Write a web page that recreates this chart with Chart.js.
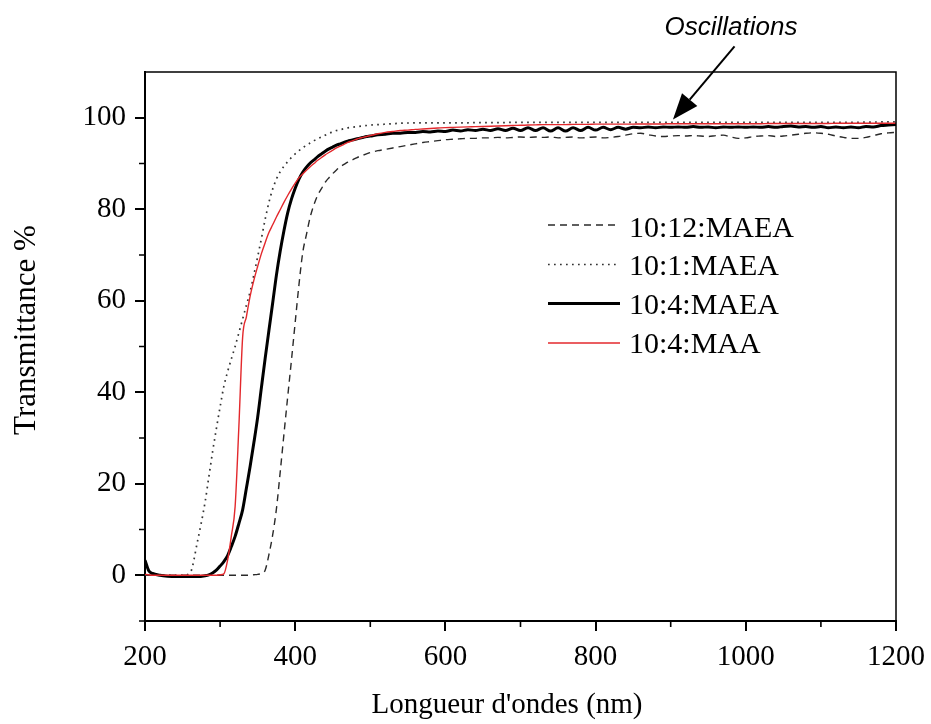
<!DOCTYPE html>
<html><head><meta charset="utf-8">
<script src="https://cdn.jsdelivr.net/npm/chart.js@4"></script>
<style>html,body{margin:0;padding:0;background:#fff}#wrap{width:931px;height:724px;position:relative}</style>
</head><body><div id="wrap"><canvas id="c"></canvas></div>
<script>
const wavelengths = [200,205,210,220,230,240,250,260,270,280,
 285,290,295,300,305,310,315,320,325,330,335,340,345,350,355,360,365,370,375,380,385,390,395,400,405,410,415,420,425,430,435,440,445,450,455,460,465,470,475,480,485,490,495,500,
 510,520,530,540,550,560,570,580,590,600,610,620,630,640,650,660,670,680,690,700,710,720,730,740,750,760,770,780,790,800,
 810,820,830,840,850,860,870,880,890,900,910,920,930,940,950,960,970,980,990,1000,1010,1020,1030,1040,1050,1060,1070,1080,1090,1100,
 1110,1120,1130,1140,1150,1160,1170,1180,1190,1200];

const t12MAEA = [0,0,0,0,0,0,0,0,0,0,
 0,0,0,0,0,0,0,0,0,0,0,0,0.1,0.2,0.4,1.1,4.5,8.8,14.5,22.5,30.8,39,47,55.3,63.5,70.5,74.5,78.3,81,83.1,84.5,85.9,86.9,87.8,88.6,89.3,89.8,90.3,90.7,91.1,91.5,91.8,92.1,92.4,
 92.8,93.1,93.4,93.7,94.0,94.3,94.6,94.8,95.0,95.2,
 95.3,95.4,95.5,95.5,95.6,95.6,95.7,95.6,95.7,95.8,
 95.7,95.8,95.7,95.8,95.6,95.7,95.8,95.6,95.7,95.8,
 95.6,95.7,95.9,96.2,96.5,96.6,96.3,96.0,95.9,96.0,
 96.1,96.0,96.1,96.0,95.9,96.1,96.2,95.8,95.5,95.6,
 95.9,96.0,96.1,95.9,96.0,96.2,96.4,96.6,96.7,96.6,
 96.4,96.0,95.7,95.5,95.5,95.7,96.1,96.5,96.7,96.8];

const t1MAEA = [0,0,0,0,0,0,0,0.5,7.5,16,
 21.5,27,32,36.8,41.3,44.5,47.3,50,53,56,59,62,65.7,69.6,73.6,77.8,81.5,84.4,86.6,88.2,89.4,90.4,91.3,92.1,92.8,93.4,94.0,94.5,95.0,95.4,95.8,96.2,96.6,96.9,97.2,97.4,97.6,97.8,97.9,98.0,98.1,98.2,98.3,98.4,
 98.5,98.6,98.7,98.8,98.85,98.9,98.9,98.9,98.9,98.9,
 98.9,98.9,98.9,98.95,98.95,98.95,98.95,98.95,99,99,
 99,99,99,99,99,99,99,99,99,99,
 99,99,99,99,99,99,99,99,99,99,
 99,99,99,99,99,99,99,99,99,99,
 99,99,99,99,99,99,99,99,99,99,
 99,99,99,99,99,99.05,99.05,99.1,99.1,99.1];

const t4MAEA = [3.3,1.0,0.4,0,-0.2,-0.3,-0.3,-0.3,-0.3,-0.1,
 0.1,0.5,1.1,2.0,3.0,4.3,6.3,8.5,11.3,14.3,19,23.8,29,34.5,41,47.4,53.5,59.5,65.6,70.8,75.3,79.2,82.2,84.6,86.6,88.1,89.2,90.1,90.8,91.5,92.1,92.7,93.2,93.6,94.0,94.3,94.6,94.9,95.1,95.3,95.5,95.7,95.9,96.0,
 96.3,96.4,96.6,96.6,96.8,96.8,97.0,96.9,97.1,97.0,
 97.3,97.1,97.4,97.2,97.5,97.2,97.6,97.2,97.7,97.2,
 97.8,97.2,97.8,97.1,97.8,97.1,97.8,97.2,97.9,97.3,
 97.9,97.4,97.9,97.5,97.9,97.8,98.0,97.8,98.0,97.9,
 98.0,97.9,98.1,97.9,98.0,97.8,98.0,97.9,98.0,97.9,
 98.0,97.9,98.1,97.9,98.1,98.2,98.0,98.1,97.9,98.1,
 97.8,98.0,97.8,98.0,97.8,98.1,98.0,98.3,98.4,98.5];

const t4MAA = [0.2,0.1,0,0,0,0,0,0,0,0,
 0,0,0,0.1,0.3,3.3,8.6,15,32.5,52,56.5,61,64.5,67.5,70.3,72.7,74.9,76.6,78.3,79.9,81.5,83,84.4,85.7,86.9,87.7,88.5,89.3,90.0,90.7,91.3,91.9,92.4,92.9,93.4,93.8,94.2,94.6,94.9,95.2,95.5,95.7,95.9,96.1,
 96.5,96.8,97.0,97.2,97.3,97.45,97.55,97.65,97.75,97.85,
 97.9,97.95,98.0,98.05,98.1,98.15,98.2,98.25,98.3,98.35,
 98.4,98.45,98.5,98.5,98.5,98.5,98.55,98.55,98.55,98.6,
 98.6,98.6,98.6,98.6,98.6,98.65,98.65,98.65,98.65,98.7,
 98.7,98.7,98.7,98.7,98.7,98.7,98.7,98.7,98.7,98.7,
 98.7,98.7,98.75,98.75,98.75,98.75,98.75,98.75,98.75,98.75,
 98.75,98.8,98.8,98.8,98.8,98.8,98.8,98.8,98.8,98.8];

const seriesLabels = ['10:12:MAEA','10:1:MAEA','10:4:MAEA','10:4:MAA'];
const xTicks = [200,400,600,800,1000,1200];
const yTicks = [0,20,40,60,80,100];
const xMinorTicks = [300,500,700,900,1100];
const yMinorTicks = [-10,10,30,50,70,90];
const xTitle = "Longueur d'ondes (nm)";
const yTitle = 'Transmittance %';
const noteText = 'Oscillations';
const noteTip = {x: 903, y: 99.6};
const noteTail = {x: 985, y: 115.6};

const toPoints = arr => wavelengths.map((x, i) => ({x: x, y: arr[i]}));
const serif = 'Liberation Serif, Times New Roman, serif';

const datasets = [
  {label: seriesLabels[0], data: toPoints(t12MAEA), borderColor: '#2a2a2a', borderWidth: 1.4, borderDash: [7, 5], order: 3},
  {label: seriesLabels[1], data: toPoints(t1MAEA), borderColor: '#333333', borderWidth: 1.7, borderDash: [1.7, 4.3], order: 2},
  {label: seriesLabels[2], data: toPoints(t4MAEA), borderColor: '#000000', borderWidth: 3, order: 1},
  {label: seriesLabels[3], data: toPoints(t4MAA), borderColor: '#e3282c', borderWidth: 1.4, order: 0}
];

const deco = {
  id: 'deco',
  afterDraw(chart) {
    const ctx = chart.ctx, a = chart.chartArea, xs = chart.scales.x, ys = chart.scales.y;
    ctx.save();
    ctx.strokeStyle = '#000'; ctx.lineWidth = 1.5; ctx.setLineDash([]);
    ctx.beginPath(); ctx.moveTo(a.left, a.top); ctx.lineTo(a.right, a.top); ctx.lineTo(a.right, a.bottom); ctx.stroke();
    ctx.lineWidth = 1.6; ctx.beginPath();
    xMinorTicks.forEach(v => { const p = xs.getPixelForValue(v); ctx.moveTo(p, a.bottom); ctx.lineTo(p, a.bottom + 6); });
    yMinorTicks.forEach(v => { const p = ys.getPixelForValue(v); ctx.moveTo(a.left, p); ctx.lineTo(a.left - 6, p); });
    ctx.stroke();
    ctx.fillStyle = '#000';
    ctx.font = '29px ' + serif; ctx.textAlign = 'center'; ctx.textBaseline = 'alphabetic';
    ctx.fillText(xTitle, 507, 713);
    ctx.save(); ctx.translate(35, 330); ctx.rotate(-Math.PI / 2); ctx.font = '31px ' + serif; ctx.fillText(yTitle, 0, 0); ctx.restore();
    const lineY = [225, 264.5, 303.5, 343], baseY = [236.5, 275, 314, 353];
    ctx.font = '30px ' + serif; ctx.textAlign = 'left';
    [0, 1, 2, 3].forEach((di, r) => {
      const ds = chart.data.datasets[di];
      ctx.strokeStyle = ds.borderColor; ctx.lineWidth = ds.borderWidth; ctx.setLineDash(ds.borderDash || []);
      ctx.beginPath(); ctx.moveTo(548, lineY[r]); ctx.lineTo(620, lineY[r]); ctx.stroke();
      ctx.setLineDash([]);
      ctx.fillStyle = '#000'; ctx.fillText(ds.label, 629, baseY[r]);
    });
    const tx = xs.getPixelForValue(noteTip.x), ty = ys.getPixelForValue(noteTip.y);
    const sx = xs.getPixelForValue(noteTail.x), sy = ys.getPixelForValue(noteTail.y);
    const ang = Math.atan2(ty - sy, tx - sx), hl = 26, hw = 10;
    const bx = tx - hl * Math.cos(ang), by = ty - hl * Math.sin(ang);
    ctx.strokeStyle = '#000'; ctx.lineWidth = 2;
    ctx.beginPath(); ctx.moveTo(sx, sy); ctx.lineTo(bx, by); ctx.stroke();
    ctx.beginPath(); ctx.moveTo(tx, ty);
    ctx.lineTo(bx + hw * Math.sin(ang), by - hw * Math.cos(ang));
    ctx.lineTo(bx - hw * Math.sin(ang), by + hw * Math.cos(ang));
    ctx.closePath(); ctx.fillStyle = '#000'; ctx.fill();
    ctx.font = 'italic 26px Liberation Sans, Arial, sans-serif'; ctx.textAlign = 'center';
    ctx.fillText(noteText, 731, 35);
    ctx.restore();
  }
};

new Chart(document.getElementById('c'), {
  type: 'line',
  data: {datasets: datasets},
  options: {
    responsive: true, maintainAspectRatio: false, animation: false,
    layout: {padding: {top: 72, right: 35, left: 0, bottom: 0}},
    elements: {point: {radius: 0}, line: {cubicInterpolationMode: 'monotone', fill: false}},
    plugins: {legend: {display: false}, tooltip: {enabled: false}},
    scales: {
      x: {
        type: 'linear', min: 200, max: 1200,
        afterBuildTicks: s => { s.ticks = xTicks.map(v => ({value: v})); },
        afterFit: s => { s.height = 103; s.paddingLeft = 0; s.paddingRight = 0; },
        grid: {drawOnChartArea: false, drawTicks: true, tickLength: 10, color: '#000', lineWidth: 2},
        border: {display: true, color: '#000', width: 2},
        ticks: {font: {family: serif, size: 29}, color: '#000', padding: 9, maxRotation: 0, autoSkip: false, callback: v => String(v)}
      },
      y: {
        type: 'linear', min: -10, max: 110,
        afterBuildTicks: s => { s.ticks = yTicks.map(v => ({value: v})); },
        afterFit: s => { s.width = 145; s.paddingTop = 0; s.paddingBottom = 0; },
        grid: {drawOnChartArea: false, drawTicks: true, tickLength: 10, color: '#000', lineWidth: 2},
        border: {display: true, color: '#000', width: 2},
        ticks: {font: {family: serif, size: 29}, color: '#000', padding: 9, autoSkip: false, callback: v => String(v)}
      }
    }
  },
  plugins: [deco]
});
</script></body></html>
